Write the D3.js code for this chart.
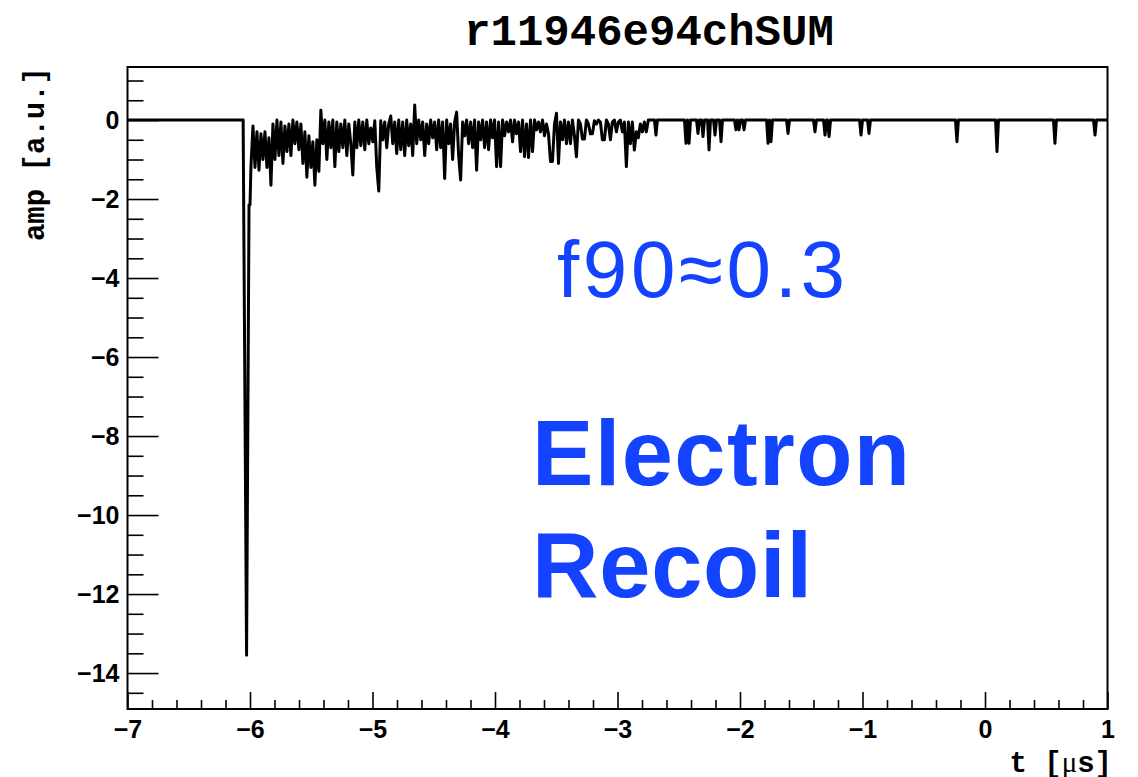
<!DOCTYPE html>
<html>
<head>
<meta charset="utf-8">
<script src="https://cdn.jsdelivr.net/npm/d3@7"></script>
<style>
  body { margin: 0; background: #fff; }
  svg { display: block; }
</style>
</head>
<body>
<svg></svg>
<script>
const title = 'r11946e94chSUM';
const xTitle = 't [';
const yTitle = 'amp [a.u.]';
const xTicks = [-7, -6, -5, -4, -3, -2, -1, 0, 1];
const yTicks = [-14, -12, -10, -8, -6, -4, -2, 0];

// flat baseline + the prompt spike (t in us, amp in a.u.)
const spikeT = [-7, -6.056, -6.028, -6.008, -6.0];
const spikeAmp = [0, 0, -13.55, -2.15, -2.15];

// dense scintillation tail, one value every denseStep us from denseStart
const denseStart = -5.992;
const denseStep = 0.0163;
const denseAmp = [
  -1.16, -0.15, -1.2, -0.3, -1.27, -0.35, -1.0, -0.3, -1.2, -0.45,
  -1.65, -0.1, -1.0, 0.0, -0.9, -0.05, -1.1, -0.15, -0.8, -0.1,
  -0.9, 0.0, -0.6, -0.05, -0.75, -0.1, -1.1, -0.3, -1.45, -0.4,
  -1.2, -0.55, -1.65, -0.5, -1.3, 0.25, -0.6, 0.0, -1.0, -0.05,
  -0.7, 0.0, -1.18, -0.05, -0.8, -0.1, -0.7, 0.0, -0.9, -0.1,
  -0.6, -1.39, -0.05, -0.7, 0.0, -0.65, -0.05, -0.75, 0.0, -0.6,
  -0.2, -0.55, -0.02, -1.2, -1.8, -0.02, -0.5, -0.05, -0.7, -0.1,
  0.1, -0.6, -0.05, -0.85, 0.0, -0.75, -0.05, -0.9, 0.0, -0.65,
  -0.1, -0.9, 0.38, -0.6, 0.0, -0.5, -0.05, -0.9, -0.1, -0.6,
  0.0, -0.45, -0.05, -0.75, 0.0, -0.7, -0.05, -1.48, 0.0, -0.6,
  -0.1, -1.0, -0.05, 0.2, -0.9, -1.52, -0.05, -0.4, 0.0, -0.6,
  -0.05, -0.7, 0.0, -1.27, -0.05, -0.5, 0.0, -0.7, -0.05, -0.75,
  0.0, -0.45, 0.0, -1.18, -0.05, -1.18, 0.0, -0.4, -0.05, -0.3,
  0.0, -0.55, 0.0, -0.35, -0.05, -0.8, 0.0, -0.93, -0.1, -0.95,
  0.0, -0.8, 0.0, -0.25, -0.05, -0.3, 0.0, -0.4, -0.1, -0.35,
  -1.05, -1.05, -0.1, 0.17, -1.1, -0.05, -0.5, 0.0, -0.6, -0.05,
  -0.6, 0.0, -0.4, -0.93, 0.0, -0.1, -0.48, -0.48, 0.0, -0.1,
  -0.35, -0.35, -0.02, -0.1, 0.0, -0.05, -0.5, -0.5, 0.0, -0.1,
  -0.5, -0.05, 0.0, -0.3, -0.05, 0.0, -0.3, -0.05, -1.18, -0.05,
  -0.6, -0.05, -0.76, -0.3, -0.45, -0.1, -0.3, -0.05, -0.3, 0.0
];

// isolated single photoelectron pulses later in the trace
const pulseT = [-2.686, -2.441, -2.416, -2.343, -2.302, -2.253, -2.204, -2.155,
  -2.033, -2.008, -1.967, -1.771, -1.747, -1.608, -1.388, -1.306, -1.273,
  -1.012, -0.947, -0.229, 0.098, 0.571, 0.898];
const pulseAmp = [-0.38, -0.59, -0.59, -0.34, -0.42, -0.76, -0.38, -0.55,
  -0.25, -0.25, -0.25, -0.59, -0.55, -0.34, -0.3, -0.38, -0.42,
  -0.38, -0.34, -0.55, -0.8, -0.59, -0.38];

const W = 1138, H = 777;
const margin = {top: 67, right: 30.5, bottom: 68, left: 127.5};
const innerWidth = W - margin.left - margin.right;
const innerHeight = H - margin.top - margin.bottom;
const blue = '#1443ff';

const svg = d3.select('svg')
  .attr('width', W)
  .attr('height', H)
  .style('background', '#fff');

const xScale = d3.scaleLinear().domain([-7, 1]).range([0, innerWidth]);
const yScale = d3.scaleLinear().domain([-14.91, 1.342]).range([innerHeight, 0]);

// build the trace
const points = [];
spikeT.forEach((t, i) => points.push([t, spikeAmp[i]]));
denseAmp.forEach((a, i) => points.push([denseStart + i * denseStep, a]));
const halfW = 0.012;
pulseT.forEach((t, i) => {
  points.push([t - halfW, 0]);
  points.push([t, pulseAmp[i]]);
  points.push([t + halfW, 0]);
});
points.push([1, 0]);
points.sort((a, b) => a[0] - b[0]);

const g = svg.append('g')
  .attr('transform', `translate(${margin.left}, ${margin.top})`);

g.append('clipPath').attr('id', 'clip')
  .append('rect').attr('width', innerWidth).attr('height', innerHeight);

const lineGen = d3.line()
  .x(d => xScale(d[0]))
  .y(d => yScale(d[1]));

g.append('path')
  .attr('d', lineGen(points))
  .attr('clip-path', 'url(#clip)')
  .attr('fill', 'none')
  .attr('stroke', '#000')
  .attr('stroke-width', 3)
  .attr('stroke-linejoin', 'round');

// axes
const tickFont = g => g.selectAll('text')
  .attr('font-family', '"Liberation Sans", Arial, sans-serif')
  .attr('font-weight', 'bold')
  .attr('font-size', 25)
  .attr('fill', '#000');

const yMinor = d3.range(-14.5, 1.01, 0.5).filter(v => !yTicks.includes(v));
g.append('g').call(d3.axisLeft(yScale).tickValues(yMinor).tickSize(-16).tickFormat(''))
  .call(a => a.select('.domain').remove())
  .selectAll('line').attr('stroke', '#000').attr('stroke-width', 1.6);
g.append('g').call(d3.axisLeft(yScale).tickValues(yTicks).tickSize(-31).tickPadding(8))
  .call(a => a.select('.domain').remove())
  .call(tickFont)
  .selectAll('line').attr('stroke', '#000').attr('stroke-width', 1.6);

const xMinor = d3.range(-6.8, 1.0, 0.2).filter(v => Math.abs(v - Math.round(v)) > 0.01);
g.append('g')
  .attr('transform', `translate(0, ${innerHeight})`)
  .call(d3.axisBottom(xScale).tickValues(xMinor).tickSize(-9).tickFormat(''))
  .call(a => a.select('.domain').remove())
  .selectAll('line').attr('stroke', '#000').attr('stroke-width', 1.6);
g.append('g')
  .attr('transform', `translate(0, ${innerHeight})`)
  .call(d3.axisBottom(xScale).tickValues(xTicks).tickSize(-17).tickPadding(11))
  .call(a => a.select('.domain').remove())
  .call(tickFont)
  .selectAll('line').attr('stroke', '#000').attr('stroke-width', 1.6);

// frame
g.append('rect')
  .attr('width', innerWidth)
  .attr('height', innerHeight)
  .attr('fill', 'none')
  .attr('stroke', '#000')
  .attr('stroke-width', 2);

// titles
svg.append('text')
  .text(title)
  .attr('x', 649)
  .attr('y', 45)
  .attr('text-anchor', 'middle')
  .attr('font-family', '"Liberation Mono", "Courier New", monospace')
  .attr('font-weight', 'bold')
  .attr('font-size', 44)
  .attr('fill', '#000');

svg.append('text')
  .text(yTitle)
  .attr('transform', 'translate(44, 67) rotate(-90)')
  .attr('text-anchor', 'end')
  .attr('font-family', '"Liberation Mono", "Courier New", monospace')
  .attr('font-weight', 'bold')
  .attr('font-size', 29)
  .attr('fill', '#000');

const xt = svg.append('text')
  .attr('x', 1112)
  .attr('y', 772)
  .attr('text-anchor', 'end')
  .attr('font-family', '"Liberation Mono", "Courier New", monospace')
  .attr('font-weight', 'bold')
  .attr('font-size', 29)
  .attr('fill', '#000')
  .attr('xml:space', 'preserve');
xt.append('tspan').text(xTitle);
xt.append('tspan').text('\u03bc').attr('font-family', '"Liberation Serif", serif').attr('font-weight', 'normal');
xt.append('tspan').text('s]');

// annotations
svg.append('text')
  .text('f90\u22480.3')
  .attr('x', 557)
  .attr('y', 297)
  .attr('textLength', 288)
  .attr('lengthAdjust', 'spacing')
  .attr('font-family', '"Liberation Sans", Arial, sans-serif')
  .attr('font-size', 80)
  .attr('fill', blue);

svg.append('text')
  .text('Electron')
  .attr('x', 532)
  .attr('y', 485)
  .attr('textLength', 378)
  .attr('lengthAdjust', 'spacing')
  .attr('font-family', '"Liberation Sans", Arial, sans-serif')
  .attr('font-weight', 'bold')
  .attr('font-size', 92)
  .attr('fill', blue);

svg.append('text')
  .text('Recoil')
  .attr('x', 532)
  .attr('y', 597)
  .attr('textLength', 280)
  .attr('lengthAdjust', 'spacing')
  .attr('font-family', '"Liberation Sans", Arial, sans-serif')
  .attr('font-weight', 'bold')
  .attr('font-size', 92)
  .attr('fill', blue);
</script>
</body>
</html>
